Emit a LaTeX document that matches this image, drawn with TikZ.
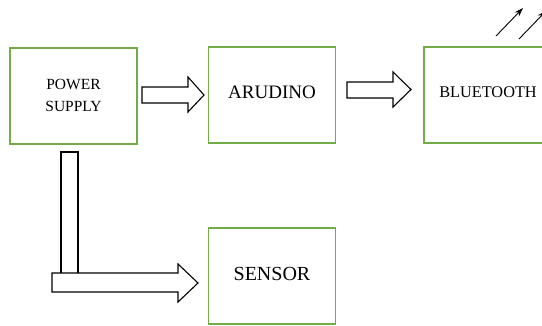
\documentclass[tikz,border=0pt]{standalone}
\usepackage{fontspec}
\setmainfont{Liberation Serif}
\newfontfamily\tnr{Liberation Serif}
\usetikzlibrary{arrows.meta}
\definecolor{boxgreen}{RGB}{112,173,71}
\begin{document}
\begin{tikzpicture}[x=1pt,y=-1pt,
  box/.style={draw=boxgreen, line width=1.3pt, minimum width=127pt, minimum height=96pt, inner sep=0pt, align=center},
  blockarrow/.style={draw=black, line width=1.1pt, fill=white, line join=miter},
  antenna/.style={draw=black, line width=0.9pt, -{Stealth[length=9pt,width=6pt]}}]
\useasboundingbox (0,0) rectangle (542,325);
\node[box, font=\tnr\fontsize{15.5}{21}\selectfont] (ps) at (73.5,96) {\raisebox{4pt}{\begin{tabular}{@{}c@{}}POWER\\[1pt] SUPPLY\end{tabular}}};
\node[box, font=\tnr\fontsize{19}{22}\selectfont] (ard) at (272,95) {\raisebox{5pt}{ARUDINO}};
\node[box, minimum width=128pt, font=\tnr\fontsize{16.3}{19}\selectfont] (bt) at (488,95) {\raisebox{5pt}{BLUETOOTH}};
\node[box, font=\tnr\fontsize{20}{23}\selectfont] (sen) at (272,276) {\raisebox{4pt}{SENSOR}};
% block arrow power supply -> arudino
\draw[blockarrow] (142,87) -- (188,87) -- (188,77) -- (204,95) -- (188,112) -- (188,103) -- (142,103) -- cycle;
% block arrow arudino -> bluetooth
\draw[blockarrow] (347,82) -- (393,82) -- (393,72) -- (411,89.5) -- (393,107) -- (393,98) -- (347,98) -- cycle;
% L-shaped arrow power supply -> sensor
\draw[blockarrow] (61,273) -- (61,152) -- (78,152) -- (78,273);
\draw[blockarrow] (52,273) -- (178,273) -- (178,264) -- (198,283) -- (178,302) -- (178,292) -- (52,292) -- cycle;
% antenna arrows
\coordinate (a1s) at (496,36);
\coordinate (a1e) at (523,8);
\coordinate (a2s) at (519,39);
\coordinate (a2e) at (546,11);
\draw[antenna] (a1s) -- (a1e);
\draw[antenna] (a2s) -- (a2e);
\end{tikzpicture}
\end{document}
